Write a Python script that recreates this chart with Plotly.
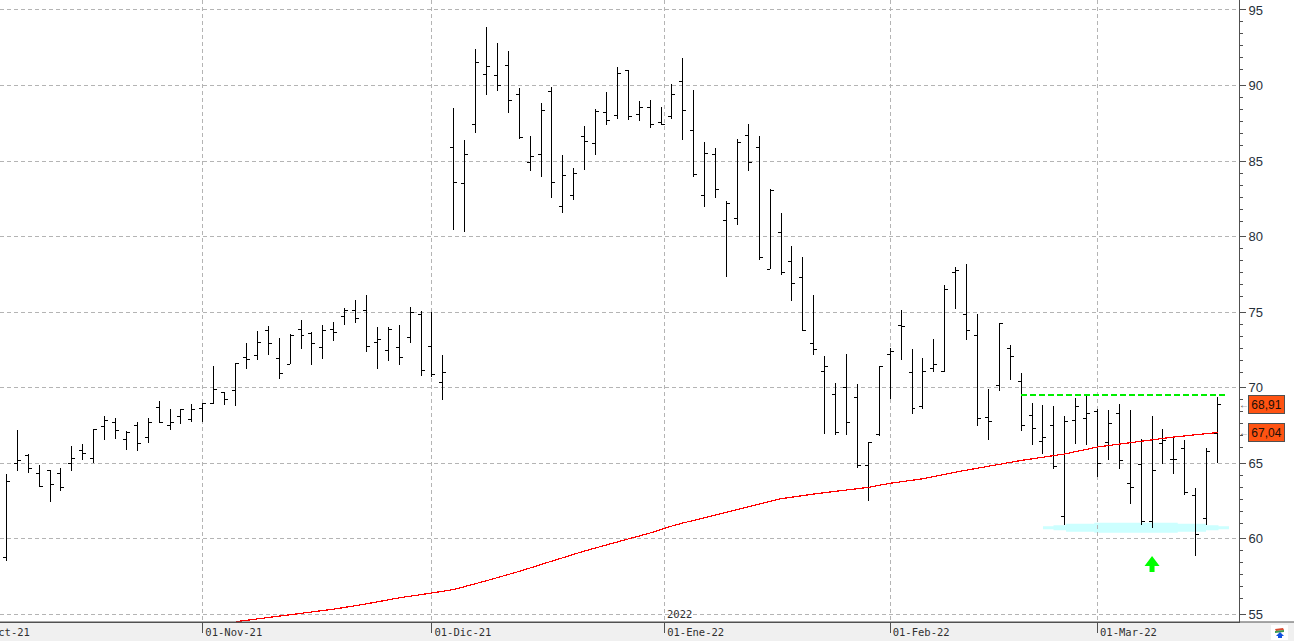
import plotly.graph_objects as go

# Daily session bars, oldest first
open_ = [58.74, 65.02, 65.51, 64.30, 64.52, 64.36, 64.96, 65.88, 65.35, 67.42,
         67.73, 66.61, 67.53, 66.74, 68.72, 67.53, 68.13, 67.93, 68.66, 68.96,
         69.67, 69.85, 72.03, 72.16, 73.77, 71.96, 71.56, 73.83, 73.57, 72.69,
         73.88, 74.73, 75.13, 75.13, 73.00, 72.47, 72.67, 73.33, 74.87, 72.73,
         70.33, 85.89, 83.51, 87.42, 90.73, 90.66, 91.32, 89.40, 84.90, 85.43,
         89.60, 81.99, 82.72, 86.62, 86.16, 88.21, 88.01, 90.99, 88.08, 88.54,
         87.55, 87.95, 90.26, 87.02, 82.72, 85.43, 81.06, 81.19, 86.69, 85.90,
         77.85, 80.30, 78.38, 77.32, 72.95, 71.09, 69.57, 70.03, 69.37, 64.85,
         66.90, 72.22, 74.14, 71.03, 68.77, 71.29, 71.09, 77.65, 74.87, 73.48,
         68.05, 70.17, 72.62, 70.41, 68.16, 66.45, 67.50, 61.45, 67.83, 67.96,
         68.44, 66.38, 68.29, 63.68, 64.93, 61.18, 66.32, 65.26, 65.99, 62.89,
         61.32, 66.97]
high = [64.32, 67.22, 65.62, 64.91, 64.54, 64.69, 66.17, 66.28, 67.27, 68.13,
        68.02, 67.14, 67.73, 68.02, 69.14, 68.61, 68.61, 68.94, 68.99, 71.45,
        69.69, 71.63, 72.97, 73.77, 74.10, 73.30, 73.55, 74.49, 73.68, 74.16,
        74.34, 75.27, 75.82, 76.16, 74.02, 74.02, 74.16, 75.36, 75.10, 75.00,
        72.16, 88.50, 86.38, 92.41, 93.86, 92.80, 92.27, 89.82, 86.64, 88.83,
        89.89, 85.39, 84.53, 87.31, 88.43, 89.56, 91.21, 91.06, 88.96, 89.03,
        88.57, 90.09, 91.81, 89.69, 86.25, 85.85, 82.34, 86.45, 87.44, 86.66,
        83.17, 81.58, 79.39, 78.66, 76.15, 72.11, 70.32, 72.24, 70.25, 66.35,
        71.42, 72.62, 75.15, 72.57, 71.98, 73.23, 76.81, 78.00, 78.20, 74.89,
        69.92, 74.29, 72.84, 71.01, 69.01, 68.84, 68.77, 68.11, 69.30, 69.43,
        68.57, 68.51, 68.90, 68.51, 66.60, 68.11, 67.26, 66.80, 66.54, 63.38,
        66.01, 69.36]
low = [58.52, 64.52, 64.34, 63.41, 62.47, 63.19, 64.52, 65.24, 65.00, 66.56,
       66.63, 65.90, 65.84, 66.37, 67.67, 67.18, 67.62, 67.75, 67.73, 68.92,
       68.83, 68.81, 71.26, 71.81, 72.18, 70.59, 71.56, 72.58, 71.52, 71.92,
       73.11, 74.16, 74.31, 72.36, 71.22, 71.76, 71.49, 72.96, 70.76, 70.73,
       69.22, 80.42, 80.29, 86.84, 89.36, 89.62, 88.17, 86.45, 84.33, 83.93,
       82.54, 81.55, 82.41, 84.39, 85.39, 87.37, 87.77, 87.70, 87.64, 87.17,
       87.37, 87.77, 86.38, 83.93, 81.94, 82.54, 77.31, 80.75, 84.33, 78.47,
       77.83, 77.43, 75.75, 73.74, 72.17, 66.94, 66.88, 66.88, 64.69, 62.51,
       66.83, 69.26, 71.84, 68.27, 68.60, 71.05, 71.05, 75.22, 73.17, 67.47,
       66.55, 69.79, 70.52, 67.13, 66.21, 65.61, 64.63, 60.92, 66.27, 66.21,
       64.10, 65.22, 64.63, 62.32, 60.94, 60.75, 64.96, 64.30, 62.92, 58.84,
       60.94, 65.00]
close = [63.77, 65.18, 64.63, 63.44, 63.63, 63.41, 65.29, 65.66, 67.22, 67.86,
         67.20, 67.07, 66.34, 67.67, 67.71, 67.73, 68.55, 68.55, 68.99, 69.91,
         69.25, 71.59, 71.89, 73.02, 72.95, 70.97, 73.48, 73.48, 72.95, 73.81,
         73.68, 75.13, 74.60, 72.73, 73.20, 73.87, 72.00, 75.00, 71.13, 70.91,
         71.00, 83.58, 85.43, 91.52, 91.26, 90.00, 89.01, 86.53, 85.30, 88.34,
         83.58, 84.04, 84.17, 86.29, 88.28, 87.68, 90.79, 87.92, 88.54, 87.42,
         87.44, 89.40, 88.34, 84.08, 85.50, 83.11, 82.19, 86.23, 84.90, 78.62,
         83.04, 77.65, 76.92, 73.81, 72.55, 71.42, 67.05, 67.72, 64.85, 66.35,
         71.42, 72.42, 74.07, 68.64, 71.09, 71.56, 76.52, 77.78, 73.81, 67.98,
         67.78, 74.23, 72.09, 67.50, 67.30, 66.71, 64.80, 67.76, 68.75, 68.29,
         65.00, 67.63, 65.20, 63.42, 61.18, 64.54, 66.51, 65.26, 63.09, 60.26,
         65.79, 68.91]

# Long moving average, sampled by session number
ma_session = [21, 24, 27, 30, 33, 36, 39, 41, 44, 47, 50, 53, 56, 59, 61, 62, 65, 68,
              71, 74, 77, 79, 81, 84, 87, 90, 93, 97, 100, 104, 107, 111]
ma_value = [54.52, 54.81, 55.07, 55.35, 55.70, 56.10, 56.42, 56.65, 57.23, 57.85, 58.53,
            59.20, 59.80, 60.39, 60.85, 61.05, 61.58, 62.11, 62.66, 62.97, 63.23, 63.41,
            63.68, 63.98, 64.42, 64.80, 65.19, 65.62, 66.08, 66.46, 66.74, 67.04]

# Drawn levels and marks
resistance_sessions = [93, 111.8]
resistance_level = 69.52
support_session = 103.53
support_price = 60.74
signal_session = 105
signal_price = 58.34

# Axis labelling
date_ticks = [18, 39, 60.33, 81, 100]
date_labels = ["01-Nov-21", "01-Dic-21", "01-Ene-22", "01-Feb-22", "01-Mar-22"]
first_date_label = "01-Oct-21"
year_label = "2022"
price_ticks = [55, 60, 65, 70, 75, 80, 85, 90, 95]
minor_step = 0.794

INK = "#505050"
GRID = "#b4b4b4"
LABEL = "#26303a"
BAND = "#f0f0f0"
TAG = "#ff5312"
DATE_FONT = dict(family="DejaVu Sans Mono, Liberation Mono, monospace", size=10.5, color="#303030")
PRICE_FONT = dict(family="Liberation Sans, Arial, sans-serif", size=13, color=LABEL)

WIDTH, HEIGHT = 1294, 641
MR, MB = 55, 19
plot_w, plot_h = WIDTH - MR, HEIGHT - MB

sessions = list(range(len(close)))
minor_ticks = [p - minor_step * k for p in price_ticks[1:] for k in range(1, 6)]

fig = go.Figure()

fig.add_trace(go.Scatter(x=ma_session, y=ma_value, mode="lines",
                         line=dict(color="#ff0000", width=1.2), hoverinfo="skip", showlegend=False))
fig.add_trace(go.Ohlc(x=sessions, open=open_, high=high, low=low, close=close, tickwidth=0.32,
                      increasing=dict(line=dict(color="#000000", width=1)),
                      decreasing=dict(line=dict(color="#000000", width=1)),
                      hoverinfo="skip", showlegend=False))
fig.add_trace(go.Scatter(x=resistance_sessions, y=[resistance_level] * 2, mode="lines",
                         line=dict(color="#00ee00", width=2, dash="6px,3px"),
                         hoverinfo="skip", showlegend=False))

# Stepped outline of the support zone, outermost step first: half width, half height in pixels
ZONE_STEPS = [(93, 1.5), (82.5, 2.5), (70, 4), (41.7, 5)]
zone_left = []
for n, (half_w, half_h) in enumerate(ZONE_STEPS):
    zone_left.append((-half_w, half_h))
    if n + 1 < len(ZONE_STEPS):
        zone_left.append((-ZONE_STEPS[n + 1][0], half_h))
zone_top = zone_left + [(-x, y) for x, y in reversed(zone_left)]
zone_outline = zone_top + [(x, -y) for x, y in reversed(zone_top)]
zone_path = "M " + " L ".join(f"{x} {y}" for x, y in zone_outline) + " Z"

shapes = [
    # footer strip and its rule, running on under the price scale
    dict(type="rect", xref="paper", yref="paper", x0=0, x1=WIDTH / plot_w, y0=-MB / plot_h, y1=0,
         fillcolor=BAND, line_width=0, layer="below"),
    dict(type="line", xref="paper", yref="paper", x0=0, x1=WIDTH / plot_w, y0=0, y1=0,
         line=dict(color=INK, width=1)),
    # support zone
    dict(type="path", xref="x", yref="y", xsizemode="pixel", ysizemode="pixel",
         xanchor=support_session, yanchor=support_price, path=zone_path,
         fillcolor="#ccffff", line_width=0, layer="below"),
    # buy signal arrow
    dict(type="path", xref="x", yref="y", xsizemode="pixel", ysizemode="pixel",
         xanchor=signal_session, yanchor=signal_price, fillcolor="#00ff00", line_width=0,
         path="M 0 8 L 7.5 -2 L 2.5 -2 L 2.5 -8 L -2.5 -8 L -2.5 -2 L -7.5 -2 Z"),
]

# small application badge in the footer corner
BADGE = [
    ("M 32 -3 L 49 -3 L 49 -18 L 32 -18 Z", "#ffffff"),
    ("M 36 -7 L 44 -6 L 45 -8 L 37 -9 Z", "#d84a30"),
    ("M 36 -9 L 45 -8 L 45 -10 L 36 -11 Z", "#3c9a50"),
    ("M 41 -10 L 45 -14 L 43 -14 L 43 -16 L 39 -16 L 39 -14 L 37 -14 Z", "#1050e0"),
]
for badge_path, badge_fill in BADGE:
    shapes.append(dict(type="path", xref="paper", yref="paper", xsizemode="pixel", ysizemode="pixel",
                       xanchor=1, yanchor=0, path=badge_path, fillcolor=badge_fill, line_width=0))

annotations = [
    # first month label runs off the left edge
    dict(text=first_date_label, xref="paper", yref="paper", x=0, y=0, xanchor="left", yanchor="top",
         xshift=-29, yshift=-2, showarrow=False, font=DATE_FONT),
    dict(text=year_label, xref="x", yref="paper", x=date_ticks[2], y=0, xanchor="left", yanchor="bottom",
         xshift=0, yshift=0, showarrow=False, font=DATE_FONT),
]
for price in (close[-1], ma_value[-1]):
    label = f"{price:.2f}".replace(".", ",")
    annotations.append(dict(text=label, xref="paper", yref="y", x=1, y=price, xanchor="left", xshift=9,
                            showarrow=False, width=35, height=17, bgcolor=TAG, bordercolor=INK,
                            borderwidth=1, borderpad=0, align="center",
                            font=dict(family="Liberation Sans, Arial, sans-serif", size=12, color="#201008")))
    annotations.append(dict(text="←", xref="paper", yref="y", x=1, y=price, xanchor="left", xshift=-1,
                            showarrow=False, borderpad=0,
                            font=dict(family="Liberation Sans, Arial, sans-serif", size=10, color=INK)))

fig.update_layout(
    width=WIDTH, height=HEIGHT, autosize=False,
    margin=dict(l=0, r=MR, t=0, b=MB, pad=0),
    paper_bgcolor="#ffffff", plot_bgcolor="#ffffff", showlegend=False,
    shapes=shapes, annotations=annotations,
    xaxis=dict(
        range=[-0.587, 112.97], rangeslider=dict(visible=False), zeroline=False, automargin=False,
        tickmode="array", tickvals=date_ticks, ticktext=date_labels,
        ticks="outside", ticklen=10, tickwidth=1, tickcolor=INK,
        ticklabelshift=31, ticklabelstandoff=-10, tickfont=DATE_FONT,
        showgrid=True, gridcolor=GRID, griddash="4px,3px", gridwidth=1,
        showline=True, linecolor=INK, linewidth=1,
    ),
    yaxis=dict(
        range=[54.50, 95.66], side="right", zeroline=False, automargin=False,
        tickmode="array", tickvals=price_ticks, ticktext=[str(p) for p in price_ticks],
        ticks="outside", ticklen=6, tickwidth=1, tickcolor=INK, tickfont=PRICE_FONT,
        showgrid=True, gridcolor=GRID, griddash="4px,3px", gridwidth=1,
        showline=True, linecolor=INK, linewidth=1,
        minor=dict(tickmode="array", tickvals=minor_ticks, ticks="outside", ticklen=3,
                   tickwidth=1, tickcolor=INK, showgrid=False),
    ),
)

# Hard pixel edges on the price bars and the average
SNAP_MARKS = """
document.querySelectorAll('.ohlclayer path, .scatterlayer .js-line').forEach(function (el) {
    el.style.shapeRendering = 'crispEdges';
});
"""

fig.write_html("out.html", config=dict(displayModeBar=False), post_script=SNAP_MARKS)
